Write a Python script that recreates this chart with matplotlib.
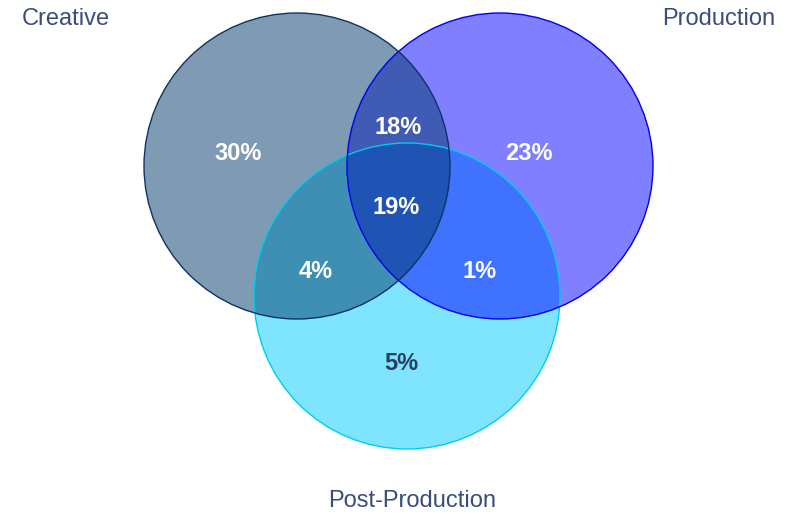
import matplotlib
matplotlib.use("Agg")
import matplotlib.pyplot as plt
from matplotlib.patches import Circle

# ---- data ----
set_names = ["Creative", "Production", "Post-Production"]
region_keys = ["C", "P", "CP", "CPP", "CPPP", "PPP", "PP"]
region_values = [30, 23, 18, 19, 4, 1, 5]

# ---- style / layout ----
plt.rcParams['font.family'] = ['Liberation Sans', 'DejaVu Sans']
W, H = 792, 514
fig = plt.figure(figsize=(W / 100, H / 100), dpi=100)
ax = fig.add_axes([0, 0, 1, 1])
ax.set_xlim(0, W)
ax.set_ylim(H, 0)
ax.axis('off')

radius = 153
centers = [(297, 166), (500, 166), (407, 296)]
fills = ['#00386a', '#0000ff', '#00ccff']
edges = ['#0d3366', '#0000ee', '#00ccee']
# fills drawn bottom-up: Post-Production, Production, Creative
for i, z in zip([2, 1, 0], [1, 2, 3]):
    cx, cy = centers[i]
    ax.add_patch(Circle((cx, cy), radius, facecolor=fills[i], alpha=0.5,
                        edgecolor='none', zorder=z))
for i in [2, 1, 0]:
    cx, cy = centers[i]
    ax.add_patch(Circle((cx, cy), radius, facecolor='none', edgecolor=edges[i],
                        lw=1.0, zorder=5))

label_pos = {"C": (238, 154), "P": (529, 154), "CP": (398, 128), "CPP": (396, 207),
             "CPPP": (316, 271), "PPP": (480, 271), "PP": (401, 364)}
text_col = '#3a4d7a'
for k, v in zip(region_keys, region_values):
    x, y = label_pos[k]
    col = '#2a3f5f' if k == "PP" else 'white'
    ax.text(x, y, f"{v}%", ha='center', va='center', fontsize=17,
            fontweight='bold', color=col, zorder=6)

title_font = 17
ax.text(22, 19, set_names[0], ha='left', va='center', fontsize=title_font, color=text_col)
ax.text(775, 19, set_names[1], ha='right', va='center', fontsize=title_font, color=text_col)
ax.text(412, 501, set_names[2], ha='center', va='center', fontsize=title_font, color=text_col)

fig.savefig('out.png', dpi=100, facecolor='white')
